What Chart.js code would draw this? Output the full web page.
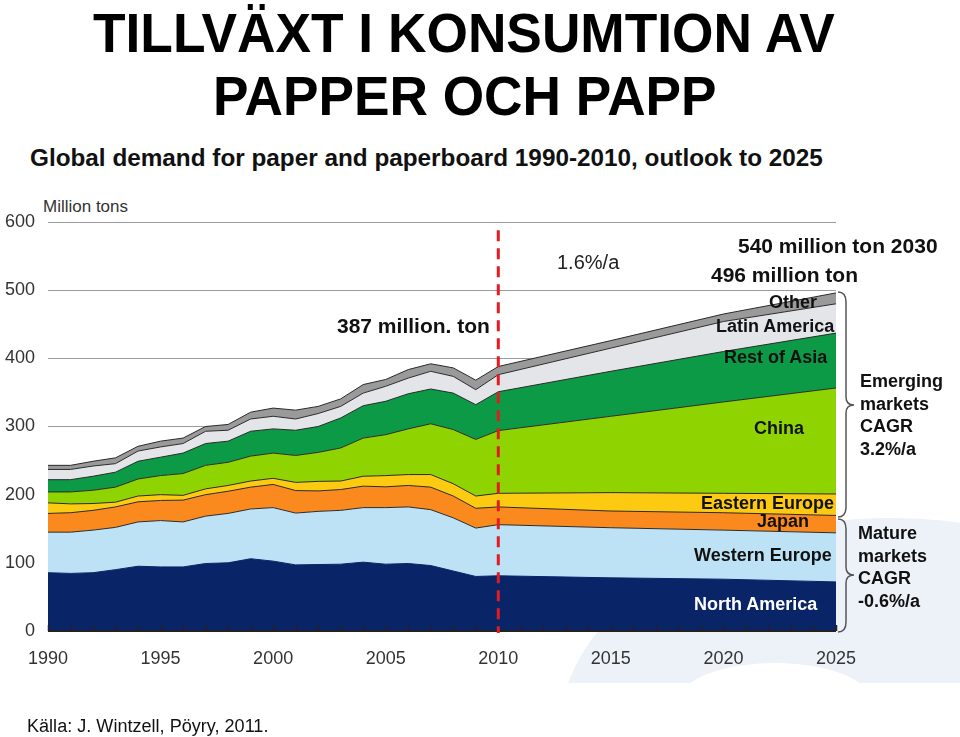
<!DOCTYPE html>
<html>
<head>
<meta charset="utf-8">
<script src="https://cdn.jsdelivr.net/npm/chart.js@4.4.1/dist/chart.umd.min.js"></script>
<style>
  body { margin: 0; width: 960px; height: 737px; position: relative; overflow: hidden; background: #fff; font-family: 'Liberation Sans', Arial, sans-serif; color: #111; }
  .abs { position: absolute; white-space: nowrap; }
  .fit { transform-origin: left center; }
  .title { font-weight: bold; font-size: 55px; line-height: 63px; color: #000; }
  .lbl { font-weight: bold; font-size: 18px; line-height: 20px; color: #111; }
  .note { font-weight: bold; font-size: 21px; line-height: 24px; color: #111; }
  .side { font-weight: bold; font-size: 18px; line-height: 22.5px; color: #111; }
</style>
</head>
<body>
<svg class="abs" style="left:0;top:0" width="960" height="737">
  <!-- faint logo swoosh behind the plot -->
  <defs><clipPath id="cut"><rect x="0" y="0" width="960" height="683"/></clipPath></defs>
  <g clip-path="url(#cut)">
    <ellipse cx="890" cy="730" rx="330" ry="212" fill="#edf1f8"/>
    <ellipse cx="775" cy="700" rx="95" ry="37" fill="#fff"/>
  </g>
</svg>

<div id="t1" class="abs title fit" style="left:93px;top:2px">TILLVÄXT I KONSUMTION AV</div>
<div id="t2" class="abs title fit" style="left:213px;top:65px">PAPPER OCH PAPP</div>
<div id="sub" class="abs fit" style="left:30px;top:144px;font-weight:bold;font-size:24px;line-height:28px;color:#111">Global demand for paper and paperboard 1990-2010, outlook to 2025</div>
<div class="abs" style="left:43px;top:197px;font-size:17px;line-height:20px;color:#333">Million tons</div>

<canvas id="chart" class="abs" style="left:0;top:190px" width="960" height="490"></canvas>

<div class="abs note" style="left:337px;top:314px">387 million. ton</div>
<div class="abs" style="left:557px;top:250px;font-size:20px;line-height:24px;color:#222">1.6%/a</div>
<div class="abs note" style="left:738px;top:234px">540 million ton 2030</div>
<div class="abs note" style="left:711px;top:263px">496 million ton</div>

<div class="abs lbl" style="left:769px;top:292px">Other</div>
<div class="abs lbl" style="left:716px;top:316px">Latin America</div>
<div class="abs lbl" style="left:724px;top:347px">Rest of Asia</div>
<div class="abs lbl" style="left:754px;top:418px">China</div>
<div class="abs lbl" style="left:701px;top:493px">Eastern Europe</div>
<div class="abs lbl" style="left:757px;top:511px">Japan</div>
<div class="abs lbl" style="left:694px;top:545px">Western Europe</div>
<div class="abs lbl" style="left:694px;top:594px;color:#fff">North America</div>

<svg class="abs" style="left:0;top:0" width="960" height="737">
  <g fill="none" stroke="#555" stroke-width="1.5">
    <path d="M838,292 Q846,292 846,302 L846,397 Q846,405 854,405 Q846,405 846,413 L846,507 Q846,517 838,517"/>
    <path d="M838,519 Q846,519 846,529 L846,567 Q846,575 854,575 Q846,575 846,583 L846,622 Q846,632 838,632"/>
  </g>
</svg>
<div class="abs side" style="left:860px;top:370px">Emerging<br>markets<br>CAGR<br>3.2%/a</div>
<div class="abs side" style="left:858px;top:522px">Mature<br>markets<br>CAGR<br>-0.6%/a</div>

<div id="src" class="abs fit" style="left:27px;top:715px;font-size:18px;line-height:22px;color:#111">Källa: J. Wintzell, Pöyry, 2011.</div>

<script>
// Global demand for paper and paperboard, million tons
const years = [1990, 1991, 1992, 1993, 1994, 1995, 1996, 1997, 1998, 1999, 2000,
               2001, 2002, 2003, 2004, 2005, 2006, 2007, 2008, 2009, 2010,
               2015, 2020, 2025];
const northAmerica  = [85.5, 84.5, 85.5, 90, 95, 94, 94, 99, 100, 106, 102.5, 97, 97.5, 98, 101, 98, 99, 96, 88, 80, 81, 78, 76, 72];
const westernEurope = [59.5, 60.5, 62.5, 62, 65, 68, 66, 69.5, 72.5, 73, 78.5, 76, 78, 79, 80, 83, 83, 82, 78, 71, 75, 73.5, 72, 72];
const japan         = [27.5, 28.5, 29, 30, 29.5, 29.5, 32, 31.5, 32.5, 32, 34, 33, 30, 30.5, 31.5, 30.5, 31.5, 33, 32, 29, 26, 24.5, 25.5, 25.5];
const easternEurope = [15.5, 13, 10, 7, 8.5, 8.5, 7, 8.5, 8.5, 9, 9, 12, 14, 12.5, 14.5, 16.5, 16, 18.5, 18, 18, 20, 27, 28.5, 31.5];
const china         = [16, 17.5, 19.5, 22, 25, 28, 32, 34.5, 34, 36.5, 37, 39.5, 42.5, 48.5, 56, 60, 67, 74.5, 79.5, 83, 92, 112, 134, 155.5];
const restOfAsia    = [18, 18, 20.5, 22, 26, 27, 30, 32, 31, 36.5, 35.5, 37, 38, 44, 47.5, 49, 51.5, 51, 53.5, 51, 57, 66, 74, 80.5];
const latinAmerica  = [15, 15, 15, 12.5, 15, 15, 14, 18, 16, 18, 18.5, 16.5, 19, 17, 18.5, 22, 23, 26, 24.5, 22, 25, 34, 44, 43];
const other         = [6, 6, 7, 8.5, 7, 8.5, 8, 7, 8.5, 10, 12, 13, 10.5, 11, 12.5, 10, 12.5, 11, 12.5, 14, 12, 11, 11, 16];

const regions = ['North America', 'Western Europe', 'Japan', 'Eastern Europe', 'China', 'Rest of Asia', 'Latin America', 'Other'];
const colors  = ['#0a2468', '#bde2f6', '#fa8a1e', '#fcca10', '#8fd400', '#0d9a46', '#e3e5e8', '#9a9a9a'];
const values  = [northAmerica, westernEurope, japan, easternEurope, china, restOfAsia, latinAmerica, other];
const forecastStart = 2010;

// squeeze the condensed headline texts to the width they have in the slide
function fitText(id, width) {
    const el = document.getElementById(id);
    el.style.transform = 'scaleX(' + (width / el.scrollWidth) + ')';
}
fitText('t1', 742);
fitText('t2', 504);
fitText('sub', 793);
fitText('src', 241);

const datasets = regions.map((name, i) => ({
    label: name,
    data: years.map((yr, j) => ({ x: yr, y: values[i][j] })),
    backgroundColor: colors[i],
    borderColor: i === 0 ? colors[0] : '#2a2a2a',
    borderWidth: 1,
    pointRadius: 0,
    tension: 0,
    fill: i === 0 ? 'origin' : '-1'
}));

// year ticks pointing up into the plot, the base line and the red 2010 marker
const overlay = {
    id: 'overlay',
    afterDatasetsDraw(chart) {
        const { ctx, chartArea, scales: { x, y } } = chart;
        ctx.save();
        ctx.strokeStyle = '#222';
        ctx.lineWidth = 1.5;
        ctx.beginPath();
        for (let yr = x.min; yr <= x.max; yr++) {
            const px = Math.round(x.getPixelForValue(yr)) + 0.5;
            ctx.moveTo(px, chartArea.bottom);
            ctx.lineTo(px, chartArea.bottom - 6);
        }
        ctx.stroke();
        ctx.lineWidth = 2;
        ctx.beginPath();
        ctx.moveTo(chartArea.left, chartArea.bottom);
        ctx.lineTo(chartArea.right, chartArea.bottom);
        ctx.stroke();

        const rx = x.getPixelForValue(forecastStart);
        ctx.strokeStyle = '#e31b23';
        ctx.lineWidth = 3;
        ctx.setLineDash([11, 7]);
        ctx.beginPath();
        ctx.moveTo(rx, y.getPixelForValue(588));
        ctx.lineTo(rx, chartArea.bottom + 2);
        ctx.stroke();
        ctx.restore();
    }
};

new Chart(document.getElementById('chart'), {
    type: 'line',
    data: { datasets },
    options: {
        responsive: false,
        animation: false,
        devicePixelRatio: 1,
        layout: { padding: { left: 0, right: 124, top: 32, bottom: 0 } },
        plugins: { legend: { display: false }, tooltip: { enabled: false } },
        scales: {
            x: {
                type: 'linear', min: 1990, max: 2025,
                grid: { display: false, drawTicks: false },
                border: { display: false },
                ticks: { stepSize: 5, color: '#333', padding: 17, font: { size: 18, family: "'Liberation Sans', Arial, sans-serif" }, callback: v => String(v) },
                afterFit: s => { s.height = 49; }
            },
            y: {
                stacked: true, min: 0, max: 600,
                grid: { color: '#9b9b9b', lineWidth: 1, drawTicks: false },
                border: { display: false },
                ticks: { stepSize: 100, color: '#333', padding: 13, font: { size: 18, family: "'Liberation Sans', Arial, sans-serif" } },
                afterFit: s => { s.width = 48; }
            }
        }
    },
    plugins: [overlay]
});
</script>
</body>
</html>
